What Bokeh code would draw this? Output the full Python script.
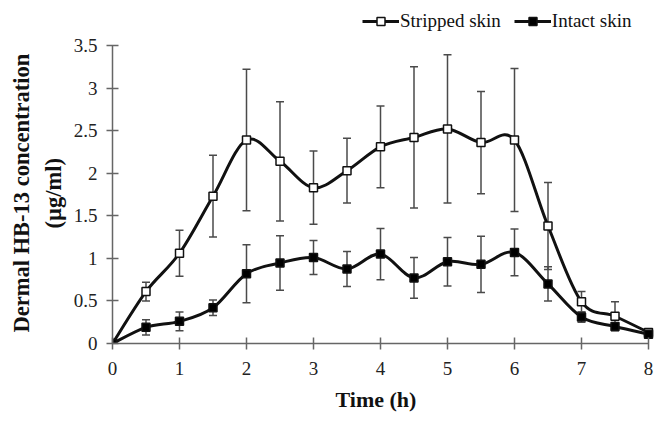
from bokeh.plotting import figure
from bokeh.models import ColumnDataSource, Whisker, TeeHead, Legend, LegendItem, Range1d, FixedTicker, Title
from bokeh.embed import file_html
from bokeh.resources import INLINE

# ---- data ----
time_h = [0, 0.5, 1, 1.5, 2, 2.5, 3, 3.5, 4, 4.5, 5, 5.5, 6, 6.5, 7, 7.5, 8]
stripped_mean = [0, 0.61, 1.06, 1.73, 2.39, 2.14, 1.83, 2.03, 2.31, 2.42, 2.52, 2.36, 2.39, 1.38, 0.49, 0.32, 0.13]
stripped_sd = [0, 0.11, 0.27, 0.48, 0.83, 0.70, 0.43, 0.38, 0.48, 0.83, 0.87, 0.60, 0.84, 0.51, 0.12, 0.17, 0.02]
intact_mean = [0, 0.19, 0.26, 0.42, 0.82, 0.945, 1.01, 0.875, 1.05, 0.77, 0.96, 0.93, 1.07, 0.70, 0.31, 0.20, 0.11]
intact_sd = [0, 0.09, 0.11, 0.09, 0.34, 0.32, 0.20, 0.205, 0.30, 0.24, 0.285, 0.33, 0.275, 0.20, 0.06, 0.04, 0.02]
x_ticks = [0, 1, 2, 3, 4, 5, 6, 7, 8]
y_ticks = [0, 0.5, 1, 1.5, 2, 2.5, 3, 3.5]
y_tick_labels = ["0", "0.5", "1", "1.5", "2", "2.5", "3", "3.5"]
series_names = ["Stripped skin", "Intact skin"]
x_title = "Time (h)"
y_title_lines = ["Dermal HB-13 concentration", "(µg/ml)"]

FONT = "Liberation Serif"

# layout (pixels): the axes occupy x 112..648 and y 45..343; the frame is
# extended to the top/right so that the legend (drawn above the axes) is not clipped
W, H = 664, 421
AX_L, AX_R, AX_T, AX_B = 112, 648, 45, 343
x_end = x_ticks[-1] * (W - AX_L) / (AX_R - AX_L)
y_end = y_ticks[-1] * AX_B / (AX_B - AX_T)


def smooth_segments(xs, ys, k=1.0 / 6.0):
    """Bezier control points for a smoothed line through the data points."""
    n = len(xs)
    d = dict(x0=[], y0=[], x1=[], y1=[], cx0=[], cy0=[], cx1=[], cy1=[])
    for i in range(n - 1):
        im1 = max(i - 1, 0)
        ip2 = min(i + 2, n - 1)
        d["x0"].append(xs[i]); d["y0"].append(ys[i])
        d["x1"].append(xs[i + 1]); d["y1"].append(ys[i + 1])
        d["cx0"].append(xs[i] + (xs[i + 1] - xs[im1]) * k)
        d["cy0"].append(ys[i] + (ys[i + 1] - ys[im1]) * k)
        d["cx1"].append(xs[i + 1] - (xs[ip2] - xs[i]) * k)
        d["cy1"].append(ys[i + 1] - (ys[ip2] - ys[i]) * k)
    return ColumnDataSource(d)


p = figure(width=W, height=H, output_backend="svg", toolbar_location=None,
           x_range=Range1d(0, x_end), y_range=Range1d(0, y_end),
           min_border_left=AX_L, min_border_right=0, min_border_top=0, min_border_bottom=H - AX_B)
p.grid.visible = False
p.outline_line_color = None
p.background_fill_color = "white"

renderers = []
for mean, sd, fill in [(stripped_mean, stripped_sd, "white"), (intact_mean, intact_sd, "black")]:
    src = ColumnDataSource(dict(t=time_h, m=mean,
                                up=[a + b for a, b in zip(mean, sd)],
                                lo=[a - b for a, b in zip(mean, sd)]))
    w = Whisker(source=src, base="t", upper="up", lower="lo",
                line_color="#4a4a4a", line_width=1.5,
                upper_head=TeeHead(size=8, line_color="#4a4a4a", line_width=1.5),
                lower_head=TeeHead(size=8, line_color="#4a4a4a", line_width=1.5))
    w.level = "underlay"
    p.add_layout(w)
    seg = smooth_segments(time_h, mean)
    lr = p.bezier(x0="x0", y0="y0", x1="x1", y1="y1", cx0="cx0", cy0="cy0", cx1="cx1", cy1="cy1",
                  source=seg, line_color="#111111", line_width=3)
    mr = p.scatter("t", "m", source=src, marker="square", size=8,
                   fill_color=fill, line_color="#111111", line_width=1.5)
    renderers.append((lr, mr))

legend = Legend(items=[LegendItem(label=series_names[i], renderers=list(renderers[i])) for i in range(2)],
                orientation="horizontal", location=(250, 311),
                border_line_color=None, background_fill_alpha=0,
                padding=0, margin=0, spacing=13, label_standoff=1,
                glyph_width=37, glyph_height=20,
                label_text_font=FONT, label_text_font_size="19px", label_text_color="#111111")
p.add_layout(legend)

for ax in (p.xaxis[0], p.yaxis[0]):
    ax.axis_line_color = "#666666"
    ax.axis_line_width = 1.5
    ax.major_tick_line_color = "#666666"
    ax.major_tick_line_width = 1.5
    ax.major_tick_in = 6
    ax.major_tick_out = 6
    ax.minor_tick_line_color = None
    ax.major_label_text_font = FONT
    ax.major_label_text_font_size = "19px"
    ax.major_label_text_color = "#222222"

p.xaxis.ticker = FixedTicker(ticks=x_ticks)
p.xaxis.bounds = (x_ticks[0], x_ticks[-1])
p.xaxis.major_label_standoff = 12

p.yaxis.ticker = FixedTicker(ticks=y_ticks)
p.yaxis.bounds = (y_ticks[0], y_ticks[-1])
p.yaxis.major_label_overrides = {t: s for t, s in zip(y_ticks, y_tick_labels)}
p.yaxis.major_label_standoff = 9

# axis titles as side-panel titles so they are centred on the axes, not on the extended frame
title_style = dict(text_font=FONT, text_font_style="bold", text_color="#111111", align="left")
p.add_layout(Title(text=x_title, offset=223, standoff=14, text_font_size="22px", **title_style), "below")
p.add_layout(Title(text=y_title_lines[1], offset=115, standoff=9, text_font_size="22.5px", **title_style), "left")
p.add_layout(Title(text=y_title_lines[0], offset=11, standoff=2, text_font_size="22.5px", **title_style), "left")

open("out.html", "w").write(file_html(p, INLINE))
